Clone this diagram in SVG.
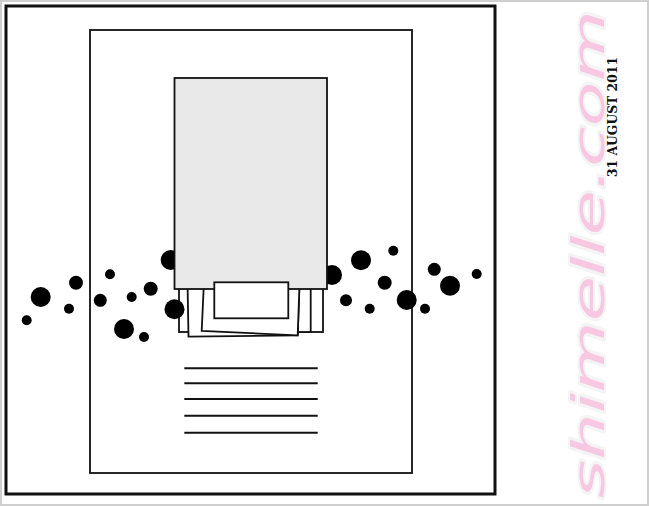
<svg xmlns="http://www.w3.org/2000/svg" width="649" height="506" viewBox="0 0 649 506">
<style>
.ln{stroke:#111;fill:none}
.mat{fill:#fff;stroke:#111;stroke-width:1.8}
.dot{fill:#000}
.rule{stroke:#111;stroke-width:2}
.wm{font-family:'DejaVu Sans',sans-serif;font-weight:200;font-style:italic;font-size:44px}
</style>
<rect x="0" y="0" width="649" height="506" fill="#fff"/>
<rect x="1" y="1" width="647" height="504" fill="none" stroke="#cfcfcf" stroke-width="2"/>
<g id="watermark">
<text class="wm" transform="translate(604,498) rotate(-90)" textLength="488" lengthAdjust="spacingAndGlyphs" fill="#f8c8e2" stroke="#f4f4f4" stroke-width="4" stroke-linejoin="round" paint-order="stroke">shimelle.com</text>
</g>
<g id="date">
<text transform="translate(617,177) rotate(-90)" font-family="'DejaVu Serif Condensed','DejaVu Serif',serif" font-weight="bold" font-size="12.5" textLength="120" lengthAdjust="spacingAndGlyphs" fill="#111">31 AUGUST 2011</text>
</g>
<g id="outer-frame"><rect x="6" y="6" width="489" height="488" class="ln" stroke-width="3"/></g>
<g id="page"><rect x="90" y="30" width="322" height="443" class="ln" stroke-width="1.8"/></g>
<g id="mats">
<rect x="179" y="270" width="144" height="62" class="mat"/>
<rect x="190" y="270" width="120.7" height="62" class="mat"/>
<polygon points="187.3,270 188.5,336.7 297.7,335.3 300,270" class="mat"/>
<polygon points="204.5,270 201.7,331 297.7,335.3 300,270" class="mat"/>
</g>
<g id="dots">
<circle class="dot" cx="40.7" cy="297" r="10"/>
<circle class="dot" cx="76" cy="282.7" r="7"/>
<circle class="dot" cx="69" cy="308.7" r="5"/>
<circle class="dot" cx="26.7" cy="320.3" r="5"/>
<circle class="dot" cx="110" cy="274.3" r="5"/>
<circle class="dot" cx="100.3" cy="300.3" r="6.5"/>
<circle class="dot" cx="131.7" cy="297" r="5"/>
<circle class="dot" cx="150.7" cy="288.7" r="7"/>
<circle class="dot" cx="124" cy="329" r="10"/>
<circle class="dot" cx="144" cy="337" r="5"/>
<circle class="dot" cx="170.7" cy="260" r="10"/>
<circle class="dot" cx="174.5" cy="309.3" r="10"/>
<circle class="dot" cx="332" cy="275" r="10"/>
<circle class="dot" cx="361" cy="260.3" r="10"/>
<circle class="dot" cx="393.3" cy="250.7" r="5"/>
<circle class="dot" cx="384.7" cy="282.7" r="7"/>
<circle class="dot" cx="346" cy="300.3" r="6"/>
<circle class="dot" cx="369.7" cy="308.7" r="5"/>
<circle class="dot" cx="406.7" cy="300" r="10"/>
<circle class="dot" cx="425" cy="308.7" r="5"/>
<circle class="dot" cx="434.3" cy="269.3" r="6.5"/>
<circle class="dot" cx="450" cy="285.7" r="10"/>
<circle class="dot" cx="476.7" cy="274" r="5"/>
</g>
<g id="photo"><rect x="174.5" y="78" width="152.5" height="211" fill="#e9e9e9" stroke="#111" stroke-width="1.8"/></g>
<g id="label"><rect x="214.3" y="282.3" width="74" height="36" fill="#fff" stroke="#111" stroke-width="1.8"/></g>
<g id="journaling">
<line class="rule" x1="184.3" y1="368.3" x2="317.7" y2="368.3"/>
<line class="rule" x1="184.3" y1="383.3" x2="317.7" y2="383.3"/>
<line class="rule" x1="184.3" y1="399" x2="317.7" y2="399"/>
<line class="rule" x1="184.3" y1="415.7" x2="317.7" y2="415.7"/>
<line class="rule" x1="184.3" y1="432.7" x2="317.7" y2="432.7"/>
</g>
</svg>
